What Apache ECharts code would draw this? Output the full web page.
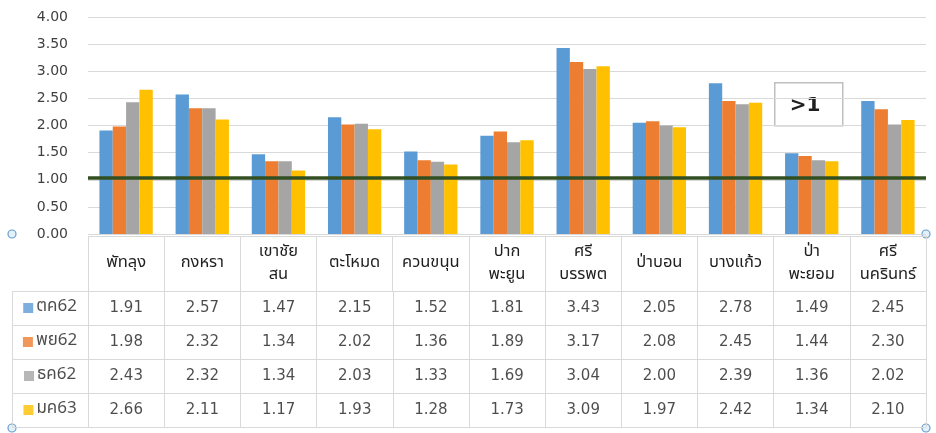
<!DOCTYPE html>
<html>
<head>
<meta charset="utf-8">
<script src="https://cdn.jsdelivr.net/npm/echarts@6/dist/echarts.min.js"></script>
<style>
  html, body { margin: 0; padding: 0; background: #fff; }
  #chart { width: 936px; height: 433px; }
</style>
</head>
<body>
<div id="chart"></div>
<script>
// ข้อมูลรายอำเภอ
const districts = ['พัทลุง', 'กงหรา', 'เขาชัย\nสน', 'ตะโหมด', 'ควนขนุน', 'ปาก\nพะยูน',
  'ศรี\nบรรพต', 'ป่าบอน', 'บางแก้ว', 'ป่า\nพะยอม', 'ศรี\nนครินทร์'];
const seriesNames = ['ตค62', 'พย62', 'ธค62', 'มค63'];
const oct62 = [1.91, 2.57, 1.47, 2.15, 1.52, 1.81, 3.43, 2.05, 2.78, 1.49, 2.45];
const nov62 = [1.98, 2.32, 1.34, 2.02, 1.36, 1.89, 3.17, 2.08, 2.45, 1.44, 2.30];
const dec62 = [2.43, 2.32, 1.34, 2.03, 1.33, 1.69, 3.04, 2.00, 2.39, 1.36, 2.02];
const jan63 = [2.66, 2.11, 1.17, 1.93, 1.28, 1.73, 3.09, 1.97, 2.42, 1.34, 2.10];
const yMax = 4;
const yStep = 0.5;
const threshold = 1.03;

const values = [oct62, nov62, dec62, jan63];
const colors = ['#5b9bd5', '#ed7d31', '#a5a5a5', '#ffc000'];
const gridColor = '#d9d9d9';
const textColor = '#1f1f1f';
const fontFam = '"Noto Sans Thai", "Noto Sans", "DejaVu Sans", sans-serif';

const chart = echarts.init(document.getElementById('chart'));

// ตัวเลขในตาราง
const cellData = [];
values.forEach((arr, s) => {
  arr.forEach((v, i) => cellData.push([i + 1, s + 0.5, v]));
});
const legendCells = seriesNames.map((n, s) => [0, s + 0.5, s]);

const rich = { t: { fontSize: 17, color: textColor, fontFamily: fontFam, padding: [0, 0, 0, 3], verticalAlign: 'middle' } };
colors.forEach((c, s) => {
  rich['b' + s] = { width: 10, height: 10, backgroundColor: c, verticalAlign: 'middle' };
});

const barSeries = values.map((arr, s) => ({
  name: seriesNames[s],
  type: 'bar',
  xAxisIndex: 0,
  yAxisIndex: 0,
  data: arr,
  barGap: '0%',
  barCategoryGap: '30%',
  itemStyle: { color: colors[s] },
  silent: true
}));
barSeries[0].markLine = {
  silent: true,
  symbol: 'none',
  label: { show: false },
  lineStyle: { color: '#324f22', width: 3.5, type: 'solid' },
  data: [{ yAxis: threshold }]
};

chart.setOption({
  animation: false,
  grid: [
    { left: 88, right: 10, top: 17, height: 217 },
    { left: 88, right: 10, top: 236, height: 55 },
    { left: 12, right: 10, top: 291, height: 136 }
  ],
  xAxis: [
    {
      type: 'category', gridIndex: 0, data: districts,
      axisLine: { show: false }, axisTick: { show: false }, axisLabel: { show: false }
    },
    {
      type: 'category', gridIndex: 1, data: districts,
      axisLine: { show: false }, axisTick: { show: false },
      splitLine: { show: true, lineStyle: { color: gridColor } },
      axisLabel: {
        inside: true, margin: 27, verticalAlign: 'middle', interval: 0,
        fontSize: 16.5, lineHeight: 23, color: textColor, fontFamily: fontFam
      }
    },
    {
      type: 'category', gridIndex: 2, data: [''].concat(districts),
      axisLine: { show: false }, axisTick: { show: false }, axisLabel: { show: false },
      splitLine: { show: true, interval: 0, lineStyle: { color: gridColor } }
    }
  ],
  yAxis: [
    {
      type: 'value', gridIndex: 0, min: 0, max: yMax, interval: yStep,
      axisLine: { show: false }, axisTick: { show: false },
      splitLine: { lineStyle: { color: gridColor } },
      axisLabel: {
        margin: 20, fontSize: 14, color: '#404040', fontFamily: '"DejaVu Sans", sans-serif',
        formatter: v => v.toFixed(2)
      }
    },
    {
      type: 'value', gridIndex: 1, min: 0, max: 1, interval: 1,
      axisLine: { show: false }, axisTick: { show: false }, axisLabel: { show: false },
      splitLine: { lineStyle: { color: gridColor } }
    },
    {
      type: 'value', gridIndex: 2, min: 0, max: seriesNames.length, interval: 1, inverse: true,
      axisLine: { show: false }, axisTick: { show: false }, axisLabel: { show: false },
      splitLine: { lineStyle: { color: gridColor } }
    }
  ],
  series: barSeries.concat([
    {
      type: 'scatter', xAxisIndex: 2, yAxisIndex: 2, symbolSize: 0, silent: true,
      data: cellData,
      label: {
        show: true, position: 'inside', fontSize: 15, color: textColor,
        fontFamily: '"DejaVu Sans", sans-serif',
        formatter: p => p.value[2].toFixed(2)
      }
    },
    {
      type: 'scatter', xAxisIndex: 2, yAxisIndex: 2, symbolSize: 0, silent: true,
      data: legendCells,
      label: {
        show: true, position: 'inside', rich: rich,
        formatter: p => '{b' + p.value[2] + '|}{t|' + seriesNames[p.value[2]] + '}'
      }
    }
  ]),
  graphic: [
    {
      type: 'group', left: 774, top: 82,
      children: [
        { type: 'rect', shape: { x: 0, y: 0, width: 68, height: 43 },
          style: { fill: '#fff', stroke: '#bfbfbf', lineWidth: 1.5 } },
        { type: 'text', x: 15, y: 23,
          style: { text: '>1', fontSize: 20, fontWeight: 'bold', fill: textColor,
            fontFamily: '"DejaVu Sans", sans-serif', verticalAlign: 'middle' } }
      ]
    },
    { type: 'circle', shape: { cx: 12, cy: 234, r: 4 }, style: { fill: '#e2f1fa', stroke: '#6a9ccf', lineWidth: 1.2 } },
    { type: 'circle', shape: { cx: 926, cy: 234, r: 4 }, style: { fill: '#e2f1fa', stroke: '#6a9ccf', lineWidth: 1.2 } },
    { type: 'circle', shape: { cx: 12, cy: 428, r: 4 }, style: { fill: '#e2f1fa', stroke: '#6a9ccf', lineWidth: 1.2 } },
    { type: 'circle', shape: { cx: 926, cy: 428, r: 4 }, style: { fill: '#e2f1fa', stroke: '#6a9ccf', lineWidth: 1.2 } }
  ]
});
</script>
</body>
</html>
